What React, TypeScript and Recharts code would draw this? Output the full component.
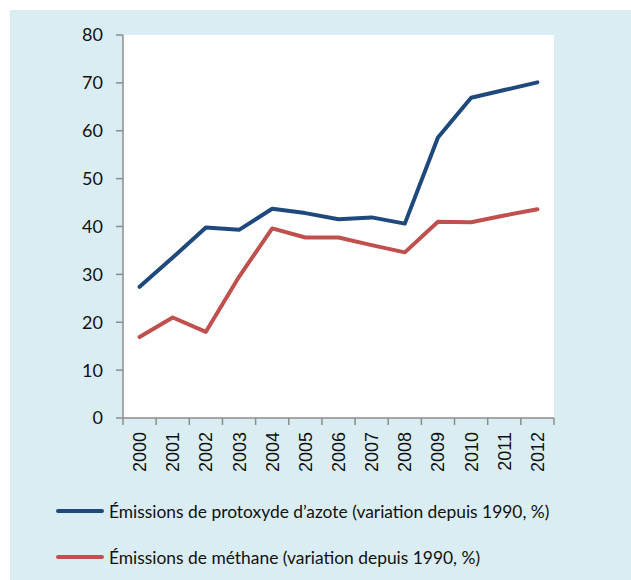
import React from "react";
import { LineChart, Line, XAxis, YAxis, CartesianGrid } from "recharts";

// Années (catégories de l'axe horizontal)
const years = ["2000", "2001", "2002", "2003", "2004", "2005", "2006", "2007", "2008", "2009", "2010", "2011", "2012"];

// Variation depuis 1990, en %
const protoxydeAzote = [27.4, 33.5, 39.8, 39.3, 43.7, 42.8, 41.5, 41.9, 40.6, 58.6, 66.9, 68.5, 70.1];
const methane = [16.9, 21.0, 18.0, 29.5, 39.6, 37.7, 37.7, 36.1, 34.6, 41.0, 40.9, 42.3, 43.6];

const yTicks = [0, 10, 20, 30, 40, 50, 60, 70, 80];

const seriesNames = [
  "Émissions de protoxyde d’azote (variation depuis 1990, %)",
  "Émissions de méthane (variation depuis 1990, %)",
];
const seriesColors = ["#1F497D", "#C0504D"];

const data = years.map((year, i) => ({
  year,
  n2o: protoxydeAzote[i],
  ch4: methane[i],
}));

const CHART_W = 621;
const CHART_H = 570;
const MARGIN = { top: 25, right: 77, bottom: 0, left: 0 };
const Y_AXIS_W = 113;
const AXIS_COLOR = "#8C8C8C";

// plot width, used to put the x ticks on category boundaries
const plotWidth = CHART_W - MARGIN.left - MARGIN.right - Y_AXIS_W;
const step = plotWidth / years.length;

const YearTick = (props: any) => {
  const { x, y, payload, index } = props;
  const isLast = index === years.length - 1;
  return (
    <g transform={`translate(${x},${y})`}>
      <line x1={-step / 2} x2={-step / 2} y1={0} y2={7} stroke={AXIS_COLOR} strokeWidth={1.5} />
      {isLast && <line x1={step / 2} x2={step / 2} y1={0} y2={7} stroke={AXIS_COLOR} strokeWidth={1.5} />}
      <text
        transform="rotate(-90)"
        x={-14}
        y={0}
        dy="0.36em"
        textAnchor="end"
        fill="#111"
        fontSize={18}
        fontFamily="'Liberation Sans', Arial, sans-serif"
      >
        {payload.value}
      </text>
    </g>
  );
};

const App: React.FC = () => {
  return (
    <div style={{ position: "absolute", left: 0, top: 0, width: 631, height: 580, background: "#fff" }}>
      <div style={{ position: "absolute", left: 10, top: 10, width: CHART_W, height: CHART_H, background: "#DAEDF3" }}>
        <LineChart width={CHART_W} height={CHART_H} data={data} margin={MARGIN}>
          <CartesianGrid fill="#FFFFFF" horizontal={false} vertical={false} stroke="none" />
          <XAxis
            dataKey="year"
            height={162}
            interval={0}
            padding={{ left: step / 2, right: step / 2 }}
            tickSize={0}
            tickMargin={0}
            tickLine={false}
            axisLine={{ stroke: AXIS_COLOR, strokeWidth: 1.5 }}
            tick={<YearTick />}
          />
          <YAxis
            width={Y_AXIS_W}
            domain={[0, 80]}
            ticks={yTicks}
            interval={0}
            tickSize={7}
            tickMargin={13}
            axisLine={{ stroke: AXIS_COLOR, strokeWidth: 1.5 }}
            tickLine={{ stroke: AXIS_COLOR, strokeWidth: 1.5 }}
            tick={{ fill: "#111", fontSize: 18, fontFamily: "Lato, 'Open Sans', sans-serif" }}
          />
          <Line
            dataKey="n2o"
            name={seriesNames[0]}
            stroke={seriesColors[0]}
            strokeWidth={4}
            strokeLinecap="round"
            strokeLinejoin="round"
            dot={false}
            isAnimationActive={false}
          />
          <Line
            dataKey="ch4"
            name={seriesNames[1]}
            stroke={seriesColors[1]}
            strokeWidth={4}
            strokeLinecap="round"
            strokeLinejoin="round"
            dot={false}
            isAnimationActive={false}
          />
        </LineChart>
        {/* legend drawn by hand under the chart */}
        <div style={{ position: "absolute", left: 46, top: 478, fontFamily: "Lato, 'Open Sans', sans-serif", fontSize: 17.4, color: "#111" }}>
          {seriesNames.map((name, i) => (
            <div key={name} style={{ display: "flex", alignItems: "center", height: 46, whiteSpace: "nowrap" }}>
              <span style={{ display: "inline-block", width: 48, height: 4, borderRadius: 2, background: seriesColors[i], marginRight: 5 }} />
              <span>{name}</span>
            </div>
          ))}
        </div>
      </div>
    </div>
  );
};

export default App;
